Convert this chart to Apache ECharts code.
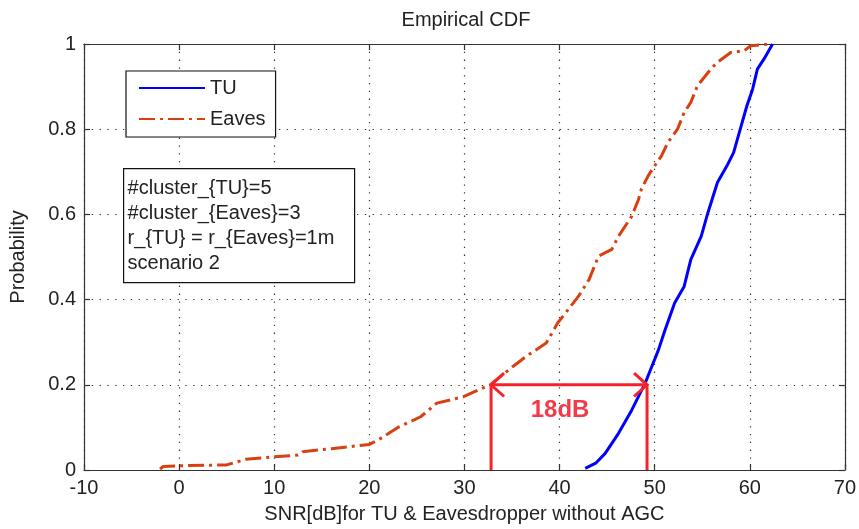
<!DOCTYPE html>
<html>
<head>
<meta charset="utf-8">
<script src="https://cdn.jsdelivr.net/npm/echarts@6/dist/echarts.min.js"></script>
<style>
html,body{margin:0;padding:0;background:#fff;}
#chart{width:859px;height:529px;}
</style>
</head>
<body>
<div id="chart"></div>
<script>
// ---- data ----
var xTicks = [-10, 0, 10, 20, 30, 40, 50, 60, 70];
var yTicks = [0, 0.2, 0.4, 0.6, 0.8, 1];
var tuX = [42.7, 43.8, 44.8, 46.2, 47.6, 49.0, 49.7, 50.4, 51.1, 52.1, 53.1, 53.8, 54.9, 55.6, 56.6, 57.6, 58.3, 59.0, 59.7, 60.3, 60.8, 61.5, 62.4];
var tuY = [0.004, 0.016, 0.039, 0.086, 0.141, 0.204, 0.243, 0.282, 0.329, 0.392, 0.431, 0.494, 0.549, 0.604, 0.675, 0.714, 0.745, 0.8, 0.855, 0.894, 0.941, 0.965, 1.0];
var eavesX = [-2.0, -1.7, 0, 5, 7, 10, 12.5, 13, 16, 20, 20.9, 23, 25.4, 27.1, 29.9, 32.7, 35.1, 36.5, 38.6, 39.8, 42.0, 43.1, 44.1, 45.5, 46.2, 47.6, 48.3, 48.6, 49.3, 50.0, 50.7, 51.4, 52.4, 53.1, 53.8, 54.5, 55.9, 56.6, 58.0, 59.4, 60.1, 62.2];
var eavesY = [0.002, 0.008, 0.01, 0.012, 0.025, 0.031, 0.035, 0.043, 0.05, 0.06, 0.07, 0.10, 0.125, 0.157, 0.172, 0.2, 0.243, 0.267, 0.298, 0.345, 0.408, 0.447, 0.502, 0.518, 0.549, 0.596, 0.635, 0.659, 0.69, 0.714, 0.737, 0.769, 0.8, 0.839, 0.863, 0.902, 0.941, 0.957, 0.98, 0.984, 0.996, 1.0];
var seriesNames = ['TU', 'Eaves'];
var gapLeftX = 32.8, gapRightX = 49.2, gapY = 0.2;
var gapLabel = '18dB';
var infoLines = ['#cluster_{TU}=5', '#cluster_{Eaves}=3', 'r_{TU} = r_{Eaves}=1m', 'scenario 2'];
var titleText = 'Empirical CDF';
var xName = 'SNR[dB]for TU & Eavesdropper without AGC';
var yName = 'Probability';

function zip(a, b) { return a.map(function (v, i) { return [v, b[i]]; }); }

var FONT = 'Liberation Sans, Arial, Helvetica, sans-serif';
var TXT = '#222';
var chart = echarts.init(document.getElementById('chart'), null, {renderer: 'canvas'});

var xMin = xTicks[0], xMax = xTicks[xTicks.length - 1], xInt = xTicks[1] - xTicks[0];
var yMin = yTicks[0], yMax = yTicks[yTicks.length - 1], yInt = 0.2;

var axisLine = {show: true, onZero: false, lineStyle: {color: '#333', width: 1.2}};
var tickIn = {show: true, inside: true, length: 6, lineStyle: {color: '#333', width: 1.2}};
var dotted = {show: true, lineStyle: {color: '#333', width: 1.2, type: [1.3, 6.5]}};

var option = {
  animation: false,
  backgroundColor: '#fff',
  title: {
    text: titleText, left: 461, top: 5, textAlign: 'center',
    textStyle: {fontFamily: FONT, fontSize: 20, fontWeight: 'normal', color: TXT}
  },
  grid: {left: 80, right: 10, top: 44, bottom: 59, containLabel: false},
  legend: {
    data: seriesNames, orient: 'vertical', left: 126, top: 71,
    itemWidth: 66, itemHeight: 14, itemGap: 11,
    padding: [7, 10, 8, 12],
    itemStyle: {opacity: 0},
    borderColor: '#111', borderWidth: 1.2, backgroundColor: '#fff',
    textStyle: {fontFamily: FONT, fontSize: 20, color: TXT}
  },
  xAxis: [{
    type: 'value', min: xMin, max: xMax, interval: xInt, position: 'bottom',
    name: xName, nameLocation: 'middle', nameGap: 34,
    nameTextStyle: {fontFamily: FONT, fontSize: 20, color: TXT},
    axisLine: axisLine, axisTick: tickIn, splitLine: dotted,
    axisLabel: {fontFamily: FONT, fontSize: 20, color: TXT, margin: 8}
  }, {
    type: 'value', min: xMin, max: xMax, interval: xInt, position: 'top',
    axisLine: axisLine, axisTick: tickIn, splitLine: {show: false}, axisLabel: {show: false}
  }],
  yAxis: [{
    type: 'value', min: yMin, max: yMax, interval: yInt, position: 'left',
    name: yName, nameLocation: 'middle', nameGap: 56, nameRotate: 90,
    nameTextStyle: {fontFamily: FONT, fontSize: 20, color: TXT},
    axisLine: axisLine, axisTick: tickIn, splitLine: dotted,
    axisLabel: {fontFamily: FONT, fontSize: 20, color: TXT, margin: 8}
  }, {
    type: 'value', min: yMin, max: yMax, interval: yInt, position: 'right',
    axisLine: axisLine, axisTick: tickIn, splitLine: {show: false}, axisLabel: {show: false}
  }],
  series: [{
    name: seriesNames[0], type: 'line', data: zip(tuX, tuY),
    showSymbol: false, symbol: 'none',
    lineStyle: {color: '#0000ff', width: 3},
    itemStyle: {color: '#0000ff'}
  }, {
    name: seriesNames[1], type: 'line', data: zip(eavesX, eavesY),
    showSymbol: false, symbol: 'none',
    lineStyle: {color: '#d9400f', width: 3, type: [16, 5, 3, 5]},
    itemStyle: {color: '#d9400f'}
  }]
};
chart.setOption(option);

// ---- annotations positioned through the chart's own scales ----
var pL0 = chart.convertToPixel({gridIndex: 0}, [gapLeftX, 0]);
var pL1 = chart.convertToPixel({gridIndex: 0}, [gapLeftX, gapY]);
var pR0 = chart.convertToPixel({gridIndex: 0}, [gapRightX, 0]);
var pR1 = chart.convertToPixel({gridIndex: 0}, [gapRightX, gapY]);
var pT = chart.convertToPixel({gridIndex: 0}, [(gapLeftX + gapRightX) / 2, gapY * 0.7]);
var RED = '#f5222d';
var ls = {stroke: RED, lineWidth: 3};
var arm = 13;
var graphics = [
  {type: 'line', shape: {x1: pL0[0], y1: pL0[1], x2: pL1[0], y2: pL1[1]}, style: ls, z: 50},
  {type: 'line', shape: {x1: pR0[0], y1: pR0[1], x2: pR1[0], y2: pR1[1]}, style: ls, z: 50},
  {type: 'line', shape: {x1: pL1[0], y1: pL1[1], x2: pR1[0], y2: pR1[1]}, style: ls, z: 50},
  {type: 'polyline', shape: {points: [[pL1[0] + arm, pL1[1] - arm * 0.9], [pL1[0], pL1[1]], [pL1[0] + arm, pL1[1] + arm * 0.9]]}, style: {stroke: RED, lineWidth: 3, fill: null}, z: 50},
  {type: 'polyline', shape: {points: [[pR1[0] - arm, pR1[1] - arm * 0.9], [pR1[0], pR1[1]], [pR1[0] - arm, pR1[1] + arm * 0.9]]}, style: {stroke: RED, lineWidth: 3, fill: null}, z: 50},
  {type: 'text', x: pT[0] - 9, y: pT[1], style: {text: gapLabel, fill: '#f23a48', font: 'bold 24px ' + FONT, textAlign: 'center', textVerticalAlign: 'middle'}, z: 50},
  {type: 'group', left: 123, top: 168, z: 60, children: [
    {type: 'rect', shape: {x: 0, y: 0, width: 231, height: 114}, style: {fill: '#fff', stroke: '#111', lineWidth: 1.2}},
    {type: 'text', x: 4, y: 7, style: {text: infoLines.join('\n'), fill: TXT, font: '20px ' + FONT, lineHeight: 25}}
  ]}
];
chart.setOption({graphic: graphics});
</script>
</body>
</html>
